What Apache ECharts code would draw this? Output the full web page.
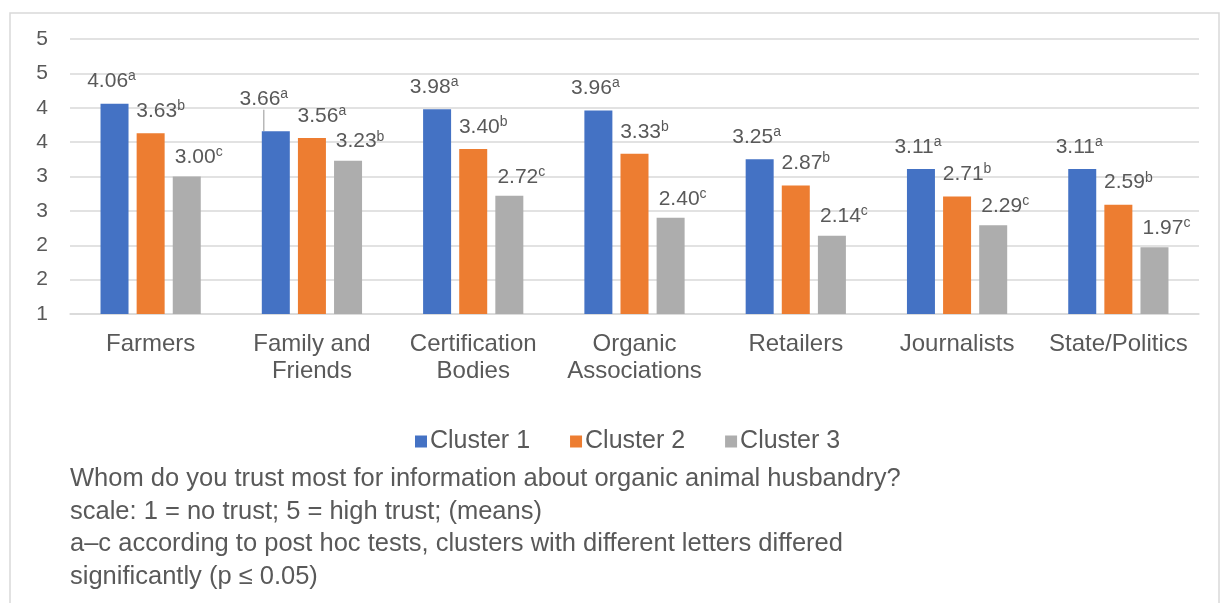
<!DOCTYPE html>
<html>
<head>
<meta charset="utf-8">
<script src="https://cdn.jsdelivr.net/npm/echarts@6/dist/echarts.min.js"></script>
<style>
  html, body { margin: 0; padding: 0; background: #fff; }
  #chart { width: 1221px; height: 603px; }
</style>
</head>
<body>
<div id="chart"></div>
<script>
const categories = ['Farmers', 'Family and\nFriends', 'Certification\nBodies', 'Organic\nAssociations', 'Retailers', 'Journalists', 'State/Politics'];
const seriesNames = ['Cluster 1', 'Cluster 2', 'Cluster 3'];
const cluster1 = [4.06, 3.66, 3.98, 3.96, 3.25, 3.11, 3.11];
const cluster2 = [3.63, 3.56, 3.40, 3.33, 2.87, 2.71, 2.59];
const cluster3 = [3.00, 3.23, 2.72, 2.40, 2.14, 2.29, 1.97];
const letters1 = ['a', 'a', 'a', 'a', 'a', 'a', 'a'];
const letters2 = ['b', 'a', 'b', 'b', 'b', 'b', 'b'];
const letters3 = ['c', 'b', 'c', 'c', 'c', 'c', 'c'];
const footnoteLines = [
  'Whom do you trust most for information about organic animal husbandry?',
  'scale: 1 = no trust; 5 = high trust; (means)',
  'a\u2013c according to post hoc tests, clusters with different letters differed',
  'significantly (p \u2264 0.05)'
];

const FONT = '"Liberation Sans", Arial, Helvetica, sans-serif';
const TXT = '#595959';
const colors = ['#4472C4', '#ED7D31', '#ADADAD'];

function makeSeries(name, values, letters, idx, dx, dist) {
  return {
    name: name,
    type: 'bar',
    barWidth: 28,
    barGap: '29%',
    itemStyle: { color: colors[idx] },
    data: values.map(function (v, i) {
      const item = { value: v };
      if (idx === 0 && i === 1) {
        item.labelLine = { show: true, lineStyle: { color: '#A6A6A6', width: 1.2 } };
      }
      return item;
    }),
    label: {
      show: true,
      position: 'top',
      distance: dist,
      fontFamily: FONT,
      formatter: function (p) {
        return '{v|' + p.value.toFixed(2) + '}{s|' + letters[p.dataIndex] + '}';
      },
      rich: {
        v: { fontSize: 21, color: TXT, fontFamily: FONT, lineHeight: 24 },
        s: { fontSize: 14, color: TXT, fontFamily: FONT, verticalAlign: 'top', lineHeight: 14 }
      }
    },
    labelLayout: function (params) {
      if (idx === 0 && params.dataIndex === 1) return { dx: -12, dy: -10 };
      return { dx: dx };
    }
  };
}

const chart = echarts.init(document.getElementById('chart'), null, { renderer: 'canvas' });
chart.setOption({
  animation: false,
  backgroundColor: '#ffffff',
  textStyle: { fontFamily: FONT },
  graphic: [{
    type: 'rect',
    shape: { x: 10, y: 13, width: 1209, height: 620 },
    style: { fill: 'none', stroke: '#D9D9D9', lineWidth: 1.5 },
    silent: true
  }],
  title: {
    text: footnoteLines.join('\n'),
    left: 65,
    top: 458,
    textStyle: { fontSize: 25.5, fontWeight: 'normal', color: TXT, lineHeight: 32.5, fontFamily: FONT }
  },
  legend: {
    data: seriesNames,
    left: 410,
    top: 424,
    icon: 'rect',
    itemWidth: 12,
    itemHeight: 12,
    itemGap: 40,
    textStyle: { fontSize: 25, color: TXT, fontFamily: FONT, padding: [0, 0, 0, -2] }
  },
  grid: { left: 70, right: 22, top: 39, bottom: 289, containLabel: false },
  xAxis: {
    type: 'category',
    data: categories,
    axisLine: { show: true, lineStyle: { color: '#D9D9D9', width: 1.5 } },
    axisTick: { show: false },
    axisLabel: { fontSize: 24, color: TXT, lineHeight: 27, margin: 17, interval: 0, fontFamily: FONT }
  },
  yAxis: {
    type: 'value',
    min: 1,
    max: 5,
    interval: 0.5,
    axisLine: { show: false },
    axisTick: { show: false },
    axisLabel: {
      fontSize: 21, color: TXT, margin: 22, fontFamily: FONT,
      formatter: function (v) { return String(Math.round(v)); }
    },
    splitLine: { lineStyle: { color: '#D9D9D9', width: 1.5 } }
  },
  series: [
    makeSeries(seriesNames[0], cluster1, letters1, 0, -3, 10),
    makeSeries(seriesNames[1], cluster2, letters2, 1, 10, 10),
    makeSeries(seriesNames[2], cluster3, letters3, 2, 12, 7)
  ]
});
</script>
</body>
</html>
